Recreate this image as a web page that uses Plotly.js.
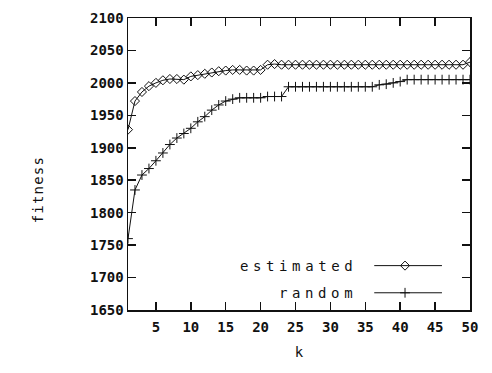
<!DOCTYPE html>
<html>
<head>
<meta charset="utf-8">
<script src="https://cdn.plot.ly/plotly-3.0.1.min.js"></script>
<style>
html,body{margin:0;padding:0;background:#fff;}
#chart{width:492px;height:373px;}
</style>
</head>
<body>
<div id="chart"></div>
<script>
// ---- data ----
const k = [];
for (let i = 1; i <= 50; i++) k.push(i);

const estimated = [
  1928, 1972, 1986, 1995, 2000, 2004, 2006, 2006, 2005, 2010,
  2012, 2014, 2016, 2018, 2019, 2020, 2020, 2019, 2019, 2020,
  2028, 2029, 2028, 2028, 2028, 2028, 2028, 2028, 2028, 2028,
  2028, 2028, 2028, 2028, 2028, 2028, 2028, 2028, 2028, 2028,
  2028, 2028, 2028, 2028, 2028, 2028, 2028, 2028, 2028, 2032
];

const random = [
  1760, 1835, 1858, 1868, 1880, 1892, 1905, 1915, 1922, 1930,
  1940, 1948, 1958, 1966, 1972, 1975, 1977, 1977, 1977, 1977,
  1979, 1979, 1979, 1994, 1994, 1994, 1994, 1994, 1994, 1994,
  1994, 1994, 1994, 1994, 1994, 1994, 1997, 1998, 2000, 2002,
  2005, 2005, 2005, 2005, 2005, 2005, 2005, 2005, 2005, 2005
];

const seriesNames = ["estimated", "random"];
const xTitle = "k";
const yTitle = "fitness";
const xTickVals = [5, 10, 15, 20, 25, 30, 35, 40, 45, 50];
const yTickVals = [1650, 1700, 1750, 1800, 1850, 1900, 1950, 2000, 2050, 2100];

// ---- style ----
const FONT = "DejaVu Sans Mono, Liberation Mono, monospace";
const ink = "#111";
const tickFont = {family: FONT, size: 14, color: ink, weight: "bold"};
const textFont = {family: FONT, size: 14, color: ink, weight: "normal"};
const keyY = [0.152, 0.059];

const traces = [
  {
    x: k, y: estimated, name: seriesNames[0], type: "scatter", mode: "lines+markers",
    line: {color: ink, width: 1},
    marker: {symbol: "diamond-open", size: 7, color: ink, line: {width: 1, color: ink}},
    showlegend: false
  },
  {
    x: k, y: random, name: seriesNames[1], type: "scatter", mode: "lines+markers",
    line: {color: ink, width: 1},
    marker: {symbol: "cross-thin-open", size: 7, color: ink, line: {width: 1, color: ink}},
    showlegend: false
  },
  // gnuplot-style key samples (symbol to the right of the label)
  {
    x: [0.81], y: [keyY[0]], xaxis: "x2", yaxis: "y2", type: "scatter", mode: "markers",
    marker: {symbol: "diamond-open", size: 7, color: ink, line: {width: 1, color: ink}},
    showlegend: false, hoverinfo: "skip"
  },
  {
    x: [0.81], y: [keyY[1]], xaxis: "x2", yaxis: "y2", type: "scatter", mode: "markers",
    marker: {symbol: "cross-thin-open", size: 7, color: ink, line: {width: 1, color: ink}},
    showlegend: false, hoverinfo: "skip"
  }
];

const layout = {
  width: 492, height: 373,
  margin: {l: 128, r: 22, t: 18, b: 63},
  paper_bgcolor: "#fff", plot_bgcolor: "#fff",
  font: textFont,
  xaxis: {
    range: [1, 50], tickvals: xTickVals, ticktext: xTickVals.map(String),
    ticks: "inside", ticklen: 8, tickwidth: 1.5, tickcolor: ink,
    showline: true, linecolor: ink, linewidth: 1.5, mirror: "allticks",
    showgrid: false, zeroline: false,
    title: {text: xTitle, font: textFont, standoff: 13},
    tickfont: tickFont, ticklabelstandoff: 4,
    automargin: false
  },
  yaxis: {
    range: [1650, 2100], tickvals: yTickVals, ticktext: yTickVals.map(String),
    ticks: "inside", ticklen: 8, tickwidth: 1.5, tickcolor: ink,
    showline: true, linecolor: ink, linewidth: 1.5, mirror: "allticks",
    showgrid: false, zeroline: false,
    tickfont: tickFont,
    automargin: false
  },
  xaxis2: {overlaying: "x", range: [0, 1], visible: false, fixedrange: true},
  yaxis2: {overlaying: "y", range: [0, 1], visible: false, fixedrange: true},
  shapes: [
    {type: "line", xref: "paper", yref: "paper", x0: 0.72, x1: 0.918, y0: keyY[0], y1: keyY[0],
     line: {color: ink, width: 1}},
    {type: "line", xref: "paper", yref: "paper", x0: 0.72, x1: 0.918, y0: keyY[1], y1: keyY[1],
     line: {color: ink, width: 1}}
  ],
  annotations: [
    {xref: "paper", yref: "paper", x: 0.675, y: keyY[0], xanchor: "right", yanchor: "middle",
     text: '<span style="letter-spacing:4.6px">' + seriesNames[0] + '</span>',
     showarrow: false, font: textFont},
    {xref: "paper", yref: "paper", x: 0.675, y: keyY[1], xanchor: "right", yanchor: "middle",
     text: '<span style="letter-spacing:4.6px">' + seriesNames[1] + '</span>',
     showarrow: false, font: textFont},
    // y-axis title (placed like gnuplot's, slightly below the plot centre)
    {xref: "paper", yref: "paper", x: -0.263, y: 0.41, xanchor: "center", yanchor: "middle",
     textangle: -90,
     text: '<span style="letter-spacing:1.2px">' + yTitle + '</span>',
     showarrow: false, font: textFont}
  ]
};

Plotly.newPlot("chart", traces, layout, {staticPlot: true, displayModeBar: false});
</script>
</body>
</html>
